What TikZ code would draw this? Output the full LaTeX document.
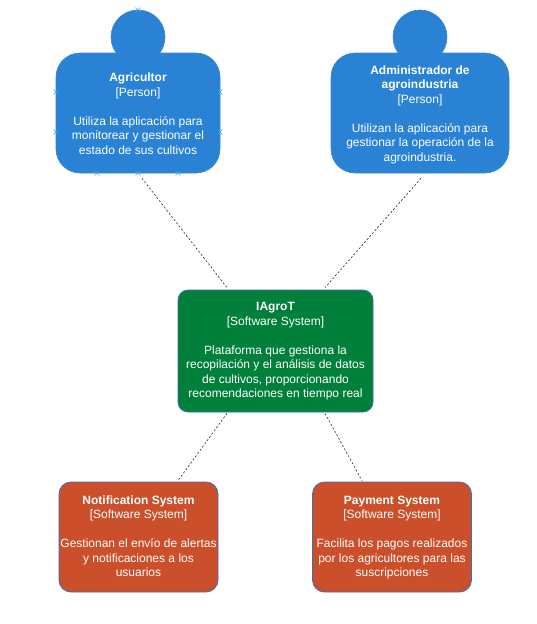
\documentclass[tikz,border=0pt]{standalone}
\usepackage{fontspec}
\setmainfont{Liberation Sans}
\usetikzlibrary{calc}
\definecolor{personblue}{HTML}{2A82D5}
\definecolor{personline}{HTML}{3B86CF}
\definecolor{sysgreen}{HTML}{00803A}
\definecolor{extorange}{HTML}{CA4F2A}
\definecolor{boxline}{HTML}{3C6FB5}
\definecolor{markblue}{HTML}{3AA8E0}
\begin{document}
\begin{tikzpicture}[x=1pt,y=-1pt,
  txt/.style={text=white,align=center,font=\fontsize{12}{14.5}\selectfont},
  personbody/.style={fill=personblue,draw=personline,line width=0.6pt,rounded corners=24pt,minimum width=164pt,minimum height=120pt,inner sep=0pt},
  personhead/.style={circle,fill=personblue,draw=personline,line width=0.6pt,minimum size=54pt,inner sep=0pt},
  sysbox/.style={fill=sysgreen,draw=boxline,line width=0.8pt,rounded corners=10pt,minimum width=195pt,minimum height=122pt,inner sep=0pt},
  extbox/.style={fill=extorange,draw=boxline,line width=0.8pt,rounded corners=12pt,minimum width=159pt,minimum height=110pt,inner sep=0pt},
  rel/.style={draw=black!85,dash pattern=on 2pt off 2pt,line width=0.6pt},
  mk/.style={draw=markblue,line width=0.6pt}]
\useasboundingbox (0,0) rectangle (537,624);
% persons
\node[personhead] (agrhead) at (138,37) {};
\node[personbody] (agr) at (138,113) {};
\node[txt] (agrtxt) at (138,113.5) {\textbf{Agricultor}\\{}[Person]\\[14.5pt]Utiliza la aplicación para\\monitorear y gestionar el\\estado de sus cultivos};
\node[personhead] (admhead) at (420,37) {};
\node[personbody, minimum width=178pt] (adm) at (420,113) {};
\node[txt] (admtxt) at (420,114.5) {\textbf{Administrador de}\\\textbf{agroindustria}\\{}[Person]\\[14.5pt]Utilizan la aplicación para\\gestionar la operación de la\\agroindustria.};
% system
\node[sysbox] (sys) at (275.5,351) {};
\node[txt] (systxt) at (275.5,351.5) {\textbf{IAgroT}\\{}[Software System]\\[14.5pt]Plataforma que gestiona la\\recopilación y el análisis de datos\\de cultivos, proporcionando\\recomendaciones en tiempo real};
% external systems
\node[extbox] (notif) at (138.5,537) {};
\node[txt] (notiftxt) at (138.5,536) {\textbf{Notification System}\\{}[Software System]\\[14.5pt]Gestionan el envío de alertas\\y notificaciones a los\\usuarios};
\node[extbox] (pay) at (392,537) {};
\node[txt] (paytxt) at (392,537.5) {\textbf{Payment System}\\{}[Software System]\\[14.5pt]Facilita los pagos realizados\\por los agricultores para las\\suscripciones};
% relations
\draw[rel] ($(agr.south)+(4,5)$) -- ($(sys.north)+(-48.5,-2)$);
\draw[rel] ($(adm.south)+(1,5)$) -- ($(sys.north)+(49.5,-2)$);
\draw[rel] ($(sys.south)+(-48.5,1)$) -- ($(notif.north)+(39.5,-1)$);
\draw[rel] ($(sys.south)+(49.5,1)$) -- ($(pay.north)+(-30,-1)$);
% selection markers
\foreach \p in {(138,10),(56,92),(56,132),(220,92),(220,132),(97,173),(138,173),(178,173)}{
  \draw[mk] \p ++(-2.5,-2.5) -- ++(5,5) \p ++(-2.5,2.5) -- ++(5,-5);
}
\end{tikzpicture}
\end{document}
